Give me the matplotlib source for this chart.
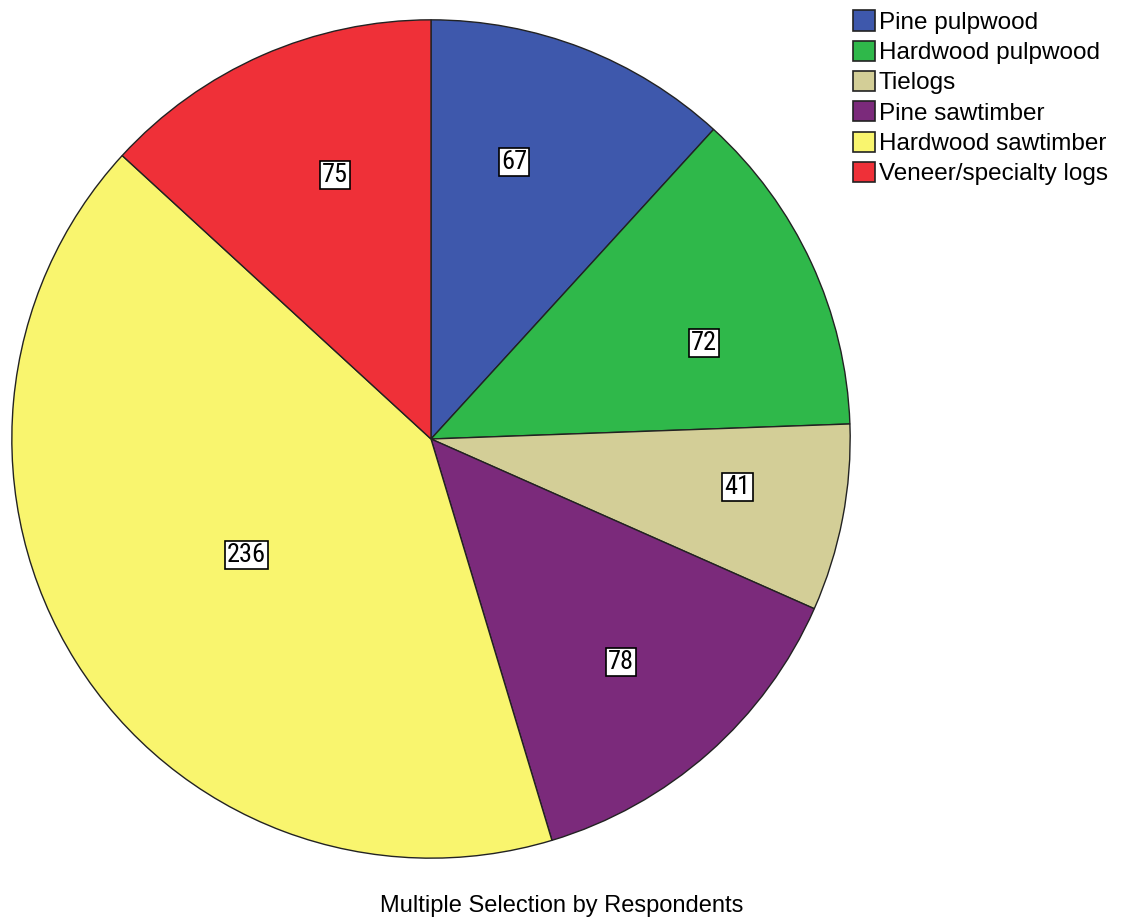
import numpy as np
import matplotlib
matplotlib.use("Agg")
import matplotlib.pyplot as plt
from matplotlib.patches import Patch
from matplotlib import font_manager

plt.rcParams['font.family'] = ['Liberation Sans', 'DejaVu Sans']

# data
categories = ['Pine pulpwood', 'Hardwood pulpwood', 'Tielogs',
              'Pine sawtimber', 'Hardwood sawtimber', 'Veneer/specialty logs']
counts = [67, 72, 41, 78, 236, 75]
colors = ['#3e58ac', '#2fb84a', '#d3ce97', '#7b2a7b', '#f9f56e', '#ef3038']
# label placement (radius fraction, angle nudge in degrees)
label_r = [0.69, 0.69, 0.74, 0.70, 0.52, 0.67]
label_da = [-4.5, 5.4, -2, 1, 0, 3.7]

# narrow font for the value boxes if one is around
names = set(f.name for f in font_manager.fontManager.ttflist)
narrow = [n for n in ['Liberation Sans Narrow', 'DejaVu Sans Condensed', 'Roboto Condensed',
                      'Open Sans Condensed'] if n in names]
print(sorted(n for n in names if 'ondens' in n or 'arrow' in n))
lab_family = narrow + ['Liberation Sans']

fig = plt.figure(figsize=(11.22, 9.22), dpi=100)
ax = fig.add_axes([11/1122, 62/922, 840/1122, 842/922])
wedges, _ = ax.pie(counts, colors=colors, startangle=90, counterclock=False,
                   radius=1.0, wedgeprops=dict(edgecolor='#222222', linewidth=1.0))
ax.set_xlim(-1.002, 1.002)
ax.set_ylim(-1.002, 1.002)
ax.set_aspect('equal')
ax.axis('off')

# value labels in white boxes
total = float(sum(counts))
cum = 0.0
for c, r, da in zip(counts, label_r, label_da):
    mid = (cum + c / 2) / total * 2 * np.pi + np.radians(da)
    cum += c
    x = r * np.sin(mid)
    y = r * np.cos(mid)
    ax.text(x, y, str(c), ha='center', va='center', fontsize=19 if narrow else 17,
            family=lab_family,
            bbox=dict(boxstyle='square,pad=0.08', facecolor='white',
                      edgecolor='black', linewidth=1.2))

handles = [Patch(facecolor=col, edgecolor='#222222', linewidth=1.2) for col in colors]
fig.legend(handles, categories, loc='upper left', bbox_to_anchor=(851/1122, 1 - 8/922),
           frameon=False, fontsize=17.5, handlelength=0.9, handleheight=0.9,
           handletextpad=0.15, labelspacing=0.28, borderpad=0.1, borderaxespad=0)

fig.text(562/1122, 1 - 906/922, 'Multiple Selection by Respondents',
         ha='center', va='center', fontsize=17)

fig.savefig('out.png', dpi=100, facecolor='white')
